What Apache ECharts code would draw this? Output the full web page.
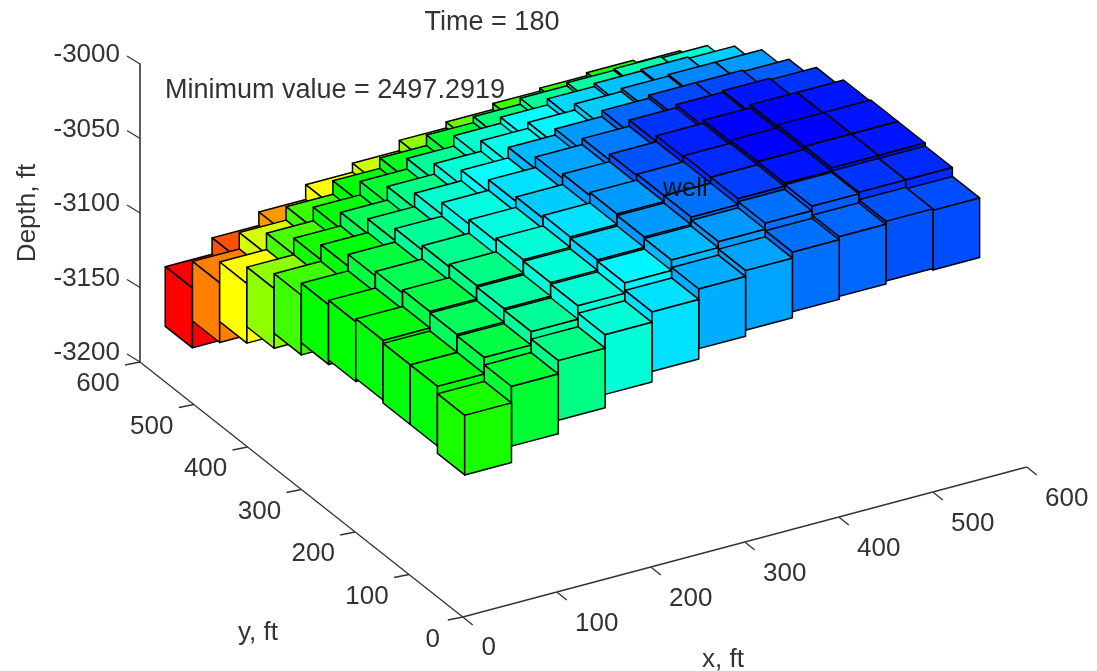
<!DOCTYPE html>
<html><head><meta charset="utf-8">
<style>html,body{margin:0;padding:0;background:#fff}#c{width:1097px;height:671px}</style>
<script src="https://cdn.jsdelivr.net/npm/echarts@6/dist/echarts.min.js"></script>
</head><body><div id="c"></div>
<script>
var xEdges=[2,51.8,101.6,151.4,201.2,251,300.8,350.6,400.4,450.2,500,549.8];
var yEdges=[0,50.6,101.2,151.8,202.4,253,303.6,354.2,404.8,455.4,506,556.6];
var xTicks=[0,100,200,300,400,500,600];
var yTicks=[0,100,200,300,400,500,600];
var depthTicks=[-3200,-3150,-3100,-3050,-3000];
var layerThickness=40;
// top depth of each cell, row per y index, column per x index
var depth0=[-3065,-3054,-3045,-3036,-3029,-3022,-3018,-3014,-3012,-3010,-3011];
var depth1=[-3060,-3049,-3040,-3031,-3024,-3017,-3013,-3009,-3006,-3005,-3005];
var depth2=[-3060,-3048,-3039,-3030,-3023,-3016,-3011,-3007,-3005,-3003,-3003];
var depth3=[-3058,-3047,-3038,-3029,-3022,-3015,-3011,-3007,-3005,-3003,-3003];
var depth4=[-3060,-3049,-3040,-3031,-3024,-3017,-3012,-3008,-3006,-3004,-3004];
var depth5=[-3063,-3052,-3043,-3034,-3027,-3020,-3016,-3012,-3010,-3009,-3010];
var depth6=[-3071,-3060,-3051,-3042,-3035,-3028,-3024,-3020,-3018,-3018,-3019];
var depth7=[-3081,-3070,-3061,-3052,-3045,-3038,-3034,-3030,-3028,-3027,-3027];
var depth8=[-3092,-3081,-3072,-3063,-3056,-3049,-3045,-3041,-3039,-3038,-3039];
var depth9=[-3106,-3095,-3086,-3077,-3070,-3063,-3059,-3055,-3053,-3052,-3053];
var depth10=[-3124,-3113,-3104,-3094,-3088,-3081,-3077,-3073,-3071,-3069,-3071];
// colour level of each cell (0 = blue, 1 = red)
var level0=[.525,.45,.37,.29,.22,.17,.16,.11,.1,.08,.075];
var level1=[.49,.43,.35,.29,.24,.18,.15,.11,.09,.05,.04];
var level2=[.49,.41,.34,.29,.21,.15,.11,.06,.02,.02,.02];
var level3=[.49,.43,.37,.29,.22,.15,.09,.04,0,0,.02];
var level4=[.5,.42,.36,.28,.2,.15,.08,.03,0,0,.02];
var level5=[.5,.44,.35,.28,.22,.16,.12,.05,.02,.02,.05];
var level6=[.56,.49,.38,.3,.25,.18,.15,.1,.07,.07,.09];
var level7=[.64,.52,.42,.37,.29,.27,.24,.2,.15,.13,.15];
var level8=[.75,.57,.49,.45,.35,.3,.25,.21,.19,.17,.2];
var level9=[.875,.71,.56,.5,.47,.45,.38,.35,.34,.33,.29];
var level10=[1,.92,.85,.75,.7,.64,.6,.56,.54,.53,.51];

var depths=[depth0,depth1,depth2,depth3,depth4,depth5,depth6,depth7,depth8,depth9,depth10];
var levels=[level0,level1,level2,level3,level4,level5,level6,level7,level8,level9,level10];
var cells=[];
for(var i=10;i>=0;i--)for(var j=10;j>=0;j--)cells.push([i,j,depths[j][i],levels[j][i]]);

var FONT='"Liberation Sans", Arial, sans-serif';
var TXT='#333';
function jet(t){
  var s=[[0,0,255],[0,255,255],[0,255,0],[255,255,0],[255,0,0]];
  var p=Math.max(0,Math.min(3.9999,t*4)),k=Math.floor(p),f=p-k,a=s[k],b=s[k+1];
  return 'rgb('+[0,1,2].map(function(n){return Math.round(a[n]+(b[n]-a[n])*f)}).join(',')+')';
}
// oblique projection onto the hidden horizontal axis and the depth axis
function pr(api,x,y,z){
  return api.coord([x*0.94+(600-y)*0.538, z+(x*0.25+(y-600)*0.425)/1.49]);
}
function poly(pts,fill){
  return {type:'polygon',shape:{points:pts},style:{fill:fill,stroke:'#000',lineWidth:1.5,lineJoin:'round'}};
}
function renderCell(params,api){
  var i=api.value(0),j=api.value(1),z=api.value(2),c=jet(api.value(3));
  var x0=xEdges[i],x1=xEdges[i+1],y0=yEdges[j],y1=yEdges[j+1],b=z-layerThickness;
  return {type:'group',children:[
    poly([pr(api,x0,y0,z),pr(api,x1,y0,z),pr(api,x1,y1,z),pr(api,x0,y1,z)],c),
    poly([pr(api,x0,y0,z),pr(api,x0,y1,z),pr(api,x0,y1,b),pr(api,x0,y0,b)],c),
    poly([pr(api,x0,y0,z),pr(api,x1,y0,z),pr(api,x1,y0,b),pr(api,x0,y0,b)],c)
  ]};
}
function seg(a,b,w){return {type:'line',shape:{x1:a[0],y1:a[1],x2:b[0],y2:b[1]},style:{stroke:'#333',lineWidth:w||1.3}};}
function label(p,s){return {type:'text',style:{x:p[0],y:p[1],text:s,fill:TXT,font:'26px '+FONT,align:'center',verticalAlign:'middle'}};}
function renderX(params,api){
  var v=api.value(0),p=pr(api,v,0,-3200),ch=[seg(p,[p[0]+10,p[1]+8])];
  if(v<600)ch.push(seg(p,pr(api,v+100,0,-3200)));
  ch.push(label(v===0?[p[0]+26,p[1]+31]:[p[0]+40,p[1]+32],String(v)));
  return {type:'group',children:ch};
}
function renderY(params,api){
  var v=api.value(0),p=pr(api,0,v,-3200),ch=[seg(p,[p[0]-15,p[1]+3])];
  if(v<600)ch.push(seg(p,pr(api,0,v+100,-3200)));
  ch.push(label(v===0?[p[0]-30,p[1]+23]:[p[0]-42,p[1]+22],String(v)));
  return {type:'group',children:ch};
}
function renderZ(params,api){
  var v=api.value(0),p=pr(api,0,600,v);
  return seg(p,[p[0]-13,p[1]-8]);
}
var chart=echarts.init(document.getElementById('c'),null,{renderer:'canvas'});
chart.setOption({
  animation:false,
  backgroundColor:'#fff',
  title:{text:'Time = 180',left:487,top:4,textAlign:'center',textStyle:{fontFamily:FONT,fontSize:27,fontWeight:'normal',color:TXT}},
  grid:{left:140,top:64,width:887,height:298,containLabel:false},
  xAxis:{type:'value',min:0,max:887,show:false},
  yAxis:{type:'value',min:-3200,max:-3000,interval:50,
    axisLine:{show:true,onZero:false,lineStyle:{color:'#333',width:1.6}},
    axisTick:{show:false},splitLine:{show:false},
    axisLabel:{formatter:function(v){return String(v)},margin:20,fontFamily:FONT,fontSize:26,color:TXT,verticalAlign:'bottom',lineHeight:18},
    name:'Depth, ft',nameLocation:'middle',nameGap:99,nameRotate:90,
    nameTextStyle:{fontFamily:FONT,fontSize:26,color:TXT}},
  series:[
    {type:'custom',renderItem:renderX,data:xTicks.map(function(v){return [v]}),encode:{x:0},silent:true,z:1},
    {type:'custom',renderItem:renderY,data:yTicks.map(function(v){return [v]}),encode:{x:0},silent:true,z:1},
    {type:'custom',renderItem:renderZ,data:depthTicks.map(function(v){return [v]}),encode:{y:0},silent:true,z:1},
    {type:'custom',renderItem:renderCell,data:cells,silent:true,z:2}
  ],
  graphic:[
    {type:'text',z:10,x:165,y:91,style:{text:'Minimum value = 2497.2919',fill:TXT,font:'27px '+FONT,verticalAlign:'middle'}},
    {type:'text',z:10,x:663,y:189,style:{text:'well',fill:'#111',font:'26px '+FONT,verticalAlign:'middle'}},
    {type:'text',z:10,x:258,y:633,style:{text:'y, ft',fill:TXT,font:'26px '+FONT,align:'center',verticalAlign:'middle'}},
    {type:'text',z:10,x:723,y:660,style:{text:'x, ft',fill:TXT,font:'26px '+FONT,align:'center',verticalAlign:'middle'}}
  ]
});
</script></body></html>
